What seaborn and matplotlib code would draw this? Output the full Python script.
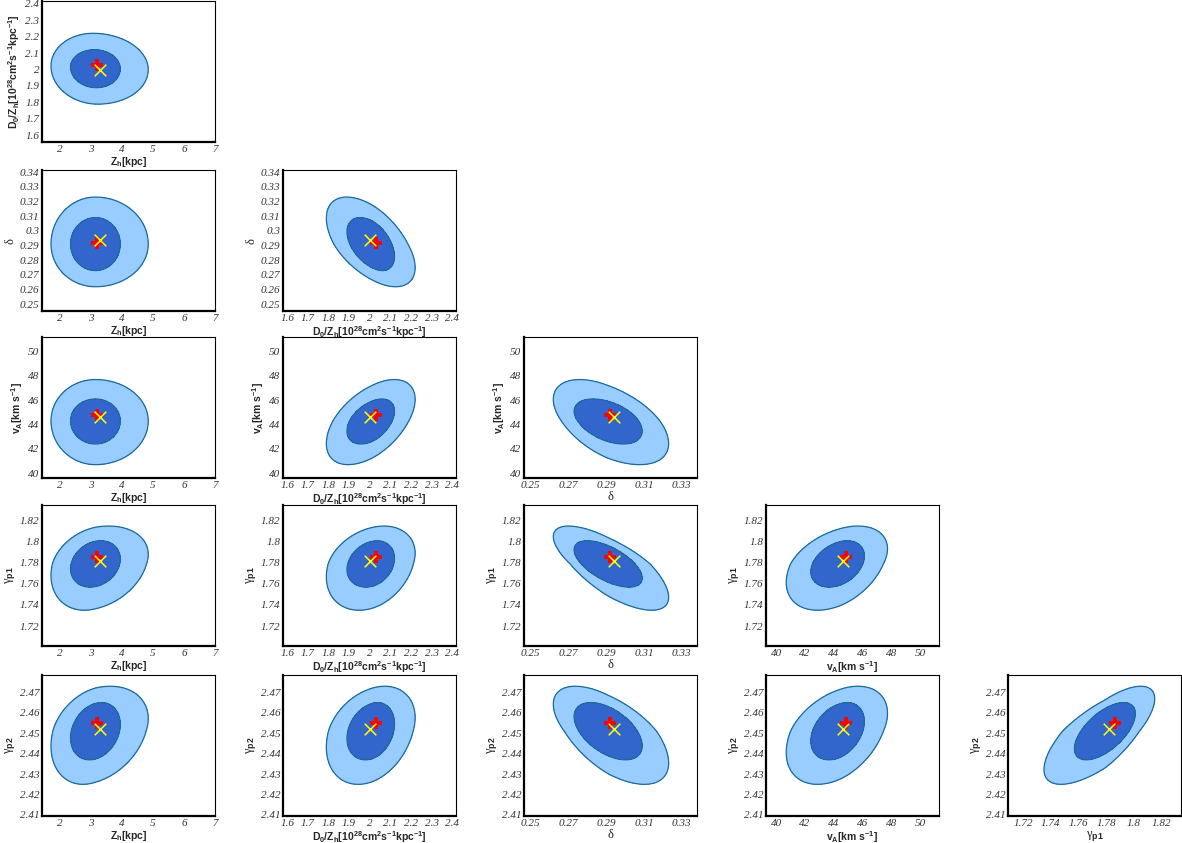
import numpy as np
import matplotlib
matplotlib.use("Agg")
import matplotlib.pyplot as plt
import seaborn as sns
from matplotlib.ticker import FixedLocator, AutoMinorLocator, FuncFormatter

# ---------------- data ----------------
param_names = ["Zh", "D0Zh", "delta", "vA", "gp1", "gp2"]
axis_labels = [
    "Z$_h$[kpc]",
    "D$_0$/Z$_h$[10$^{28}$cm$^2$s$^{-1}$kpc$^{-1}$]",
    "δ",
    "v$_A$[km s$^{-1}$]",
    "γ$_{p1}$",
    "γ$_{p2}$",
]
label_is_greek = [False, False, True, False, True, True]

best_fit = [3.2, 2.03, 0.292, 44.8, 1.786, 2.455]     # red plus
mean_val = [3.3, 2.00, 0.294, 44.6, 1.782, 2.452]     # yellow cross
center = [3.15, 2.01, 0.291, 44.3, 1.779, 2.451]
inner_lo = [2.35, 1.89, 0.273, 42.4, 1.757, 2.437]
inner_hi = [3.95, 2.12, 0.309, 46.1, 1.801, 2.465]
outer_lo = [1.72, 1.79, 0.262, 40.7, 1.735, 2.425]
outer_hi = [4.85, 2.22, 0.323, 47.7, 1.815, 2.473]
corr_outer = [
    [1.00, -0.05, 0.00, 0.00, 0.25, 0.28],
    [-0.05, 1.00, -0.55, 0.52, 0.28, 0.30],
    [0.00, -0.55, 1.00, -0.52, -0.72, -0.60],
    [0.00, 0.52, -0.52, 1.00, 0.40, 0.40],
    [0.25, 0.28, -0.72, 0.40, 1.00, 0.72],
    [0.28, 0.30, -0.60, 0.40, 0.72, 1.00],
]
inner_corr_scale = 0.85

xlim_lo = [1.43, 1.58, 0.2465, 39.3, 1.709, 2.4095]
xlim_hi = [7.0, 2.418, 0.338, 51.26, 1.834, 2.4785]
ylim_lo = [1.43, 1.56, 0.2455, 39.6, 1.701, 2.4095]
ylim_hi = [7.0, 2.416, 0.3414, 51.2, 1.835, 2.4785]

xticks = [
    [2, 3, 4, 5, 6, 7],
    [1.6, 1.7, 1.8, 1.9, 2.0, 2.1, 2.2, 2.3, 2.4],
    [0.25, 0.27, 0.29, 0.31, 0.33],
    [40, 42, 44, 46, 48, 50],
    [1.72, 1.74, 1.76, 1.78, 1.80, 1.82],
    [2.41, 2.42, 2.43, 2.44, 2.45, 2.46, 2.47],
]
yticks = [
    [2, 3, 4, 5, 6, 7],
    [1.6, 1.7, 1.8, 1.9, 2.0, 2.1, 2.2, 2.3, 2.4],
    [0.25, 0.26, 0.27, 0.28, 0.29, 0.30, 0.31, 0.32, 0.33, 0.34],
    [40, 42, 44, 46, 48, 50],
    [1.72, 1.74, 1.76, 1.78, 1.80, 1.82],
    [2.41, 2.42, 2.43, 2.44, 2.45, 2.46, 2.47],
]
xminor = [5, 5, 4, 4, 4, 5]
yminor = [5, 5, 5, 4, 4, 5]

# ---------------- style ----------------
sns.set_style("white")
plt.rcParams["font.family"] = ["Liberation Sans", "DejaVu Sans"]
plt.rcParams["mathtext.fontset"] = "custom"
plt.rcParams["mathtext.rm"] = "Liberation Sans:bold"
plt.rcParams["mathtext.it"] = "Liberation Sans:bold"
plt.rcParams["mathtext.bf"] = "Liberation Sans:bold"
plt.rcParams["mathtext.default"] = "rm"

outer_col = "#99ccff"
inner_col = "#3366cc"
line_col = "#1b6a9c"

W, H = 1182, 843
fig = plt.figure(figsize=(W / 100, H / 100), dpi=100)

col_left = [42, 283, 524, 766, 1008]
row_top = [1, 170, 337, 505, 675]
aw, ah = 173, 141


def ustd(x, c, lo, hi):
    return np.where(x >= c, (x - c) / (hi - c), (x - c) / (c - lo))


def fmt(v, pos):
    return ("%.3f" % v).rstrip("0").rstrip(".")


for r in range(5):
    yi = r + 1
    for cj in range(r + 1):
        xi = cj
        left = col_left[cj]
        top = row_top[r]
        ax = fig.add_axes([left / W, 1 - (top + ah) / H, aw / W, ah / H])
        xs = np.linspace(xlim_lo[xi], xlim_hi[xi], 320)
        ys = np.linspace(ylim_lo[yi], ylim_hi[yi], 320)
        X, Y = np.meshgrid(xs, ys)
        rho_o = corr_outer[xi][yi]
        for lo_a, hi_a, col, rho in ((outer_lo, outer_hi, outer_col, rho_o),
                                     (inner_lo, inner_hi, inner_col, rho_o * inner_corr_scale)):
            u = ustd(X, center[xi], lo_a[xi], hi_a[xi])
            v = ustd(Y, center[yi], lo_a[yi], hi_a[yi])
            Q = (u * u - 2 * rho * u * v + v * v) / (1 - rho * rho)
            ax.contourf(X, Y, Q, levels=[-1, 1], colors=[col], zorder=1)
            ax.contour(X, Y, Q, levels=[1], colors=[line_col], linewidths=0.9, zorder=2)

        sns.scatterplot(x=[best_fit[xi]], y=[best_fit[yi]], marker="P", color="#ff0000",
                        s=70, linewidth=0, ax=ax, zorder=5)
        sns.scatterplot(x=[mean_val[xi]], y=[mean_val[yi]], marker="x", color="#ffff00",
                        s=70, linewidth=1.1, ax=ax, zorder=6)

        ax.set_xlim(xlim_lo[xi], xlim_hi[xi])
        ax.set_ylim(ylim_lo[yi], ylim_hi[yi])
        ax.xaxis.set_major_locator(FixedLocator(xticks[xi]))
        ax.yaxis.set_major_locator(FixedLocator(yticks[yi]))
        ax.xaxis.set_minor_locator(AutoMinorLocator(xminor[xi]))
        ax.yaxis.set_minor_locator(AutoMinorLocator(yminor[yi]))
        ax.xaxis.set_major_formatter(FuncFormatter(fmt))
        ax.yaxis.set_major_formatter(FuncFormatter(fmt))
        ax.tick_params(which="both", direction="in", top=False, right=False,
                       colors="black", width=0.8)
        ax.tick_params(which="major", length=3.5, pad=2)
        ax.tick_params(which="minor", length=2)
        for lab in ax.get_xticklabels() + ax.get_yticklabels():
            lab.set_fontfamily("Liberation Serif")
            lab.set_fontstyle("italic")
            lab.set_fontsize(8)
            lab.set_color("#333333")
        for s in ("left", "bottom"):
            ax.spines[s].set_linewidth(1.6)
            ax.spines[s].set_color("black")
        for s in ("top", "right"):
            ax.spines[s].set_linewidth(0.8)
            ax.spines[s].set_color("black")

        if label_is_greek[xi]:
            ax.set_xlabel(axis_labels[xi], fontfamily="Liberation Serif", fontsize=9, labelpad=1)
        else:
            ax.set_xlabel(axis_labels[xi], fontweight="bold", fontsize=7.5, labelpad=1)
        if label_is_greek[yi]:
            ax.set_ylabel(axis_labels[yi], fontfamily="Liberation Serif", fontsize=9, labelpad=2)
        else:
            ax.set_ylabel(axis_labels[yi], fontweight="bold", fontsize=7.5, labelpad=2)

fig.savefig("out.png", dpi=100)
